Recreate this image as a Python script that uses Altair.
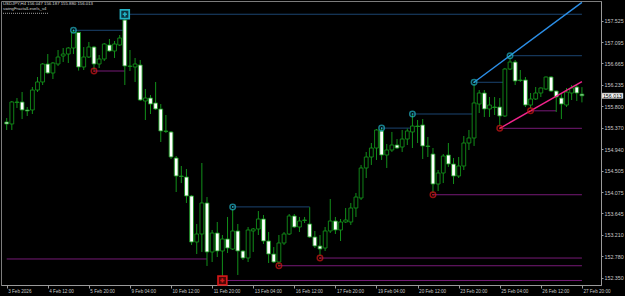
import altair as alt
import pandas as pd

# ---- data (USDJPY H4) ----
opens = [155.485,155.445,155.878,155.888,155.727,155.727,156.129,156.291,156.653,156.472,
         156.653,156.814,156.854,156.975,157.290,156.593,156.794,156.995,156.653,156.754,
         157.036,156.915,157.036,157.539,156.603,156.593,156.633,155.908,155.968,155.868,
         155.747,155.304,155.284,154.760,154.397,154.377,153.995,153.068,153.229,153.854,
         152.867,153.249,152.887,153.128,152.927,153.290,152.887,152.746,153.290,153.330,
         153.531,153.088,152.826,152.665,153.048,153.229,153.592,153.370,153.501,153.431,
         153.169,152.988,152.947,153.290,153.491,153.310,153.471,153.471,153.753,153.954,
         154.559,154.780,154.961,155.304,154.820,154.921,155.022,154.981,155.142,155.284,
         155.404,155.425,155.002,154.840,154.236,154.458,154.820,154.639,154.397,154.599,
         155.062,155.163,155.847,156.069,155.747,155.787,155.787,155.606,156.552,156.693,
         156.331,156.331,155.827,155.948,156.069,156.150,156.391,156.109,155.968,155.827,
         156.069,156.190,156.047]
highs = [155.565,155.908,155.968,156.089,155.787,156.190,156.391,156.673,156.854,156.693,
         156.935,156.975,156.995,157.318,157.300,156.995,157.096,157.016,156.834,157.076,
         157.157,157.116,157.237,157.600,156.935,156.774,156.734,156.150,156.029,156.291,
         155.847,155.626,155.304,154.800,154.599,154.538,154.015,153.431,154.659,153.974,
         153.310,153.471,153.209,153.572,153.733,153.431,152.907,153.370,153.350,153.692,
         153.612,153.269,152.967,153.209,153.269,153.632,153.632,153.572,153.572,153.770,
         153.290,153.209,153.370,153.934,153.572,153.531,153.753,153.854,154.055,154.619,
         154.881,155.062,155.344,155.355,155.042,155.284,155.142,155.324,155.354,155.630,
         155.525,155.545,155.183,154.961,154.518,154.840,155.062,154.760,154.780,155.203,
         155.324,156.250,156.129,156.129,155.988,155.988,155.968,156.573,156.784,156.734,
         156.532,156.391,156.069,156.190,156.180,156.401,156.411,156.119,156.069,156.170,
         156.230,156.230,156.187]
lows = [155.324,155.324,155.767,155.545,155.606,155.646,156.089,156.230,156.452,156.351,
        156.613,156.693,156.673,156.854,156.520,156.532,156.774,156.532,156.572,156.713,
        156.895,156.774,157.016,156.230,156.512,156.291,155.908,155.525,155.646,155.727,
        155.082,155.263,154.740,154.075,154.256,153.854,153.008,152.826,152.867,152.585,
        152.665,152.766,152.360,152.847,152.907,152.404,152.706,152.665,152.867,153.209,
        153.028,152.645,152.645,152.615,153.008,153.209,153.350,153.269,153.451,153.149,
        152.947,152.786,152.887,153.249,153.229,153.088,153.451,153.411,153.572,153.914,
        154.357,154.619,154.720,154.720,154.559,154.881,154.941,154.881,155.022,154.961,
        155.062,154.740,154.780,154.060,154.095,154.256,154.579,154.236,154.357,154.518,
        154.921,155.002,155.666,155.586,155.586,155.626,155.404,155.586,156.532,156.230,
        156.291,155.787,155.767,155.928,155.988,156.129,156.089,155.686,155.545,155.787,
        155.928,155.908,155.880]
closes = [155.445,155.888,155.888,155.727,155.707,156.129,156.291,156.653,156.472,156.673,
          156.794,156.854,156.975,157.298,156.593,156.794,156.995,156.653,156.754,157.056,
          156.915,157.056,157.177,156.613,156.613,156.653,155.928,155.968,155.847,155.747,
          155.304,155.294,154.780,154.397,154.387,153.995,153.068,153.229,153.854,152.867,
          153.249,152.887,153.128,152.947,153.290,152.887,152.746,153.310,153.330,153.531,
          153.088,152.826,152.665,153.048,153.229,153.592,153.370,153.491,153.511,153.169,
          152.988,152.927,153.290,153.491,153.310,153.471,153.511,153.753,153.974,154.559,
          154.780,154.961,155.324,154.820,154.921,155.022,154.961,155.142,155.304,155.404,
          155.394,155.002,154.992,154.236,154.458,154.800,154.639,154.397,154.599,155.062,
          155.163,155.868,156.069,155.747,155.827,155.777,155.606,156.552,156.693,156.311,
          156.321,155.827,155.948,156.069,156.170,156.391,156.109,155.988,155.847,156.089,
          156.170,156.069,156.013]

tick_bars = [0, 8, 16, 24, 32, 40, 48, 56, 64, 72, 80, 88, 96, 104, 112]
tick_labels = ["3 Feb 2026", "4 Feb 12:00", "5 Feb 20:00", "9 Feb 04:00", "10 Feb 12:00",
               "11 Feb 20:00", "13 Feb 04:00", "16 Feb 12:00", "17 Feb 20:00", "19 Feb 04:00",
               "20 Feb 12:00", "23 Feb 20:00", "25 Feb 04:00", "26 Feb 12:00", "27 Feb 20:00"]
price_ticks = [157.525, 157.095, 156.665, 156.235, 155.800, 155.370, 154.940,
               154.505, 154.075, 153.645, 153.210, 152.780, 152.350]

# swing levels: start bar, end bar, price
high_start = [13, 23, 44, 73, 79, 91, 98]
high_end = [23, 112, 59, 79, 91, 97, 112]
high_price = [157.332, 157.655, 153.775, 155.362, 155.646, 156.285, 156.820]
high_square = [False, True, False, False, False, False, False]

low_start = [17, 42, 53, 61, 83, 96, 102]
low_end = [23, 112, 112, 112, 112, 112, 107]
low_price = [156.512, 152.293, 152.590, 152.745, 154.020, 155.358, 155.710]
low_square = [False, True, False, False, False, False, False]
old_low_start, old_low_end, old_low_price = 0, 39, 152.726

# trend lines: bar and price at both ends
blue_trend_bars = [91, 112]
blue_trend_prices = [156.285, 157.895]
pink_trend_bars = [96, 112]
pink_trend_prices = [155.358, 156.297]

header = "USDJPY,H4  156.047 156.187 155.880 156.013"
indicator = "swingFractalLevels_v4"

# ---- tables ----
n = len(opens)
candles = pd.DataFrame({"i": list(range(n)), "open": opens, "high": highs,
                        "low": lows, "close": closes})
highs_df = pd.DataFrame({"x1": high_start, "x2": high_end, "p": high_price, "sq": high_square})
lows_df = pd.DataFrame({"x1": low_start + [old_low_start], "x2": low_end + [old_low_end],
                        "p": low_price + [old_low_price], "sq": low_square + [False]})
trends = pd.DataFrame({"x1": [blue_trend_bars[0], pink_trend_bars[0]],
                       "x2": [blue_trend_bars[1], pink_trend_bars[1]],
                       "p1": [blue_trend_prices[0], pink_trend_prices[0]],
                       "p2": [blue_trend_prices[1], pink_trend_prices[1]],
                       "c": ["blue", "pink"]})
last = pd.DataFrame({"p": [closes[-1]], "top": [closes[-1] + 0.055],
                     "bot": [closes[-1] - 0.055], "t": [f"{closes[-1]:.3f}"]})

xs = alt.Scale(domain=[-0.134, 114.74], nice=False, zero=False)
ys = alt.Scale(domain=[152.202, 157.922], nice=False, zero=False)

label_arr = "[" + ",".join(f"'{t}'" for t in tick_labels) + "]"
x_axis = alt.Axis(values=tick_bars, labelExpr=f"{label_arr}[round(datum.value/8)]",
                  labelAlign="left", labelBaseline="top", labelFontSize=4.6,
                  labelColor="#c8c8c8", labelFont="Liberation Sans", labelPadding=0,
                  labelOffset=1, tickSize=3, tickColor="#9a9a9a", domainColor="#9a9a9a",
                  labelOverlap=False, labelBound=False, labelFlush=False, grid=False, title=None)
y_axis = alt.Axis(orient="right", values=price_ticks, format=".3f", labelFontSize=5.3,
                  labelColor="#c8c8c8", labelFont="Liberation Sans", labelPadding=1,
                  tickSize=2, tickColor="#9a9a9a", domainColor="#9a9a9a",
                  labelOverlap=False, grid=False, title=None)


def X(f):
    return alt.X(f, scale=xs, axis=x_axis, title=None)


def Y(f):
    return alt.Y(f, scale=ys, axis=y_axis, title=None)


GREEN = "#12901a"

high_lines = alt.Chart(highs_df).mark_rule(color="#1b4470", strokeWidth=1).encode(
    x=X("x1:Q"), x2="x2:Q", y=Y("p:Q"))
low_lines = alt.Chart(lows_df).mark_rule(color="#761a76", strokeWidth=1).encode(
    x=X("x1:Q"), x2="x2:Q", y=Y("p:Q"))

wicks = alt.Chart(candles).mark_rule(color=GREEN, strokeWidth=1).encode(
    x=X("i:Q"), y=Y("low:Q"), y2="high:Q")

bodies = alt.Chart(candles).mark_bar(width=3.8, stroke=GREEN, strokeWidth=0.9).encode(
    x=X("i:Q"), y=Y("open:Q"), y2="close:Q",
    fill=alt.condition("datum.close >= datum.open", alt.value("#000000"), alt.value("#ffffff")))

trend_lines = alt.Chart(trends).mark_rule(strokeWidth=1.4).encode(
    x=X("x1:Q"), x2="x2:Q", y=Y("p1:Q"), y2="p2:Q",
    color=alt.Color("c:N", scale=alt.Scale(domain=["blue", "pink"],
                                           range=["#2b8ee6", "#f0248c"]), legend=None))


def markers(df, col_ring, col_dark):
    base = alt.Chart(df).encode(x=X("x1:Q"), y=Y("p:Q"))
    circ = base.transform_filter("!datum.sq")
    sq = base.transform_filter("datum.sq")
    return [
        circ.mark_point(shape="circle", filled=False, size=30, strokeWidth=1.5, color=col_ring),
        circ.mark_point(shape="circle", filled=True, size=3, opacity=1, color=col_ring),
        sq.mark_square(size=110, color=col_ring, opacity=1),
        sq.mark_square(size=50, color=col_dark, opacity=1),
        sq.mark_point(shape="cross", filled=True, size=18, color=col_ring, opacity=1),
    ]


hi_marks = markers(highs_df, "#22b0c2", "#0b3540")
lo_marks = markers(lows_df.iloc[:-1], "#d21818", "#4a0606")

price_box = alt.Chart(last).mark_rect(fill="#f4f4f4", stroke="#9a9a9a", strokeWidth=0.5).encode(
    x=alt.value(601), x2=alt.value(622), y=Y("top:Q"), y2="bot:Q")
price_txt = alt.Chart(last).mark_text(fontSize=5.3, color="#000000", font="Liberation Sans",
                                      align="center", baseline="middle").encode(
    x=alt.value(611.5), y=Y("p:Q"), text="t:N")

head1 = alt.Chart(pd.DataFrame({"t": [header]})).mark_text(
    align="left", baseline="middle", fontSize=4.3, color="#d6d6d6", font="Liberation Sans").encode(
    x=alt.value(2), y=alt.value(3), text="t:N")
head2 = alt.Chart(pd.DataFrame({"t": [indicator]})).mark_text(
    align="left", baseline="middle", fontSize=4.3, color="#d6d6d6", font="Liberation Sans").encode(
    x=alt.value(2), y=alt.value(8.3), text="t:N")
dots = alt.Chart(pd.DataFrame({"a": [0]})).mark_rule(
    color="#a0a0a0", strokeWidth=1, strokeDash=[1, 1]).encode(
    x=alt.value(2), x2=alt.value(47), y=alt.value(12.3))

chart = alt.layer(
    high_lines, low_lines, wicks, bodies, trend_lines, *hi_marks, *lo_marks,
    price_box, price_txt, head1, head2, dots
).properties(
    width=600, height=284,
    padding={"left": 1, "top": 1, "right": 24, "bottom": 11},
    autosize=alt.AutoSizeParams(type="none"),
    background="#000000",
).configure_view(stroke="#7c7c7c", strokeWidth=1)

chart.save("out.html", embed_options={"renderer": "svg", "actions": False})
